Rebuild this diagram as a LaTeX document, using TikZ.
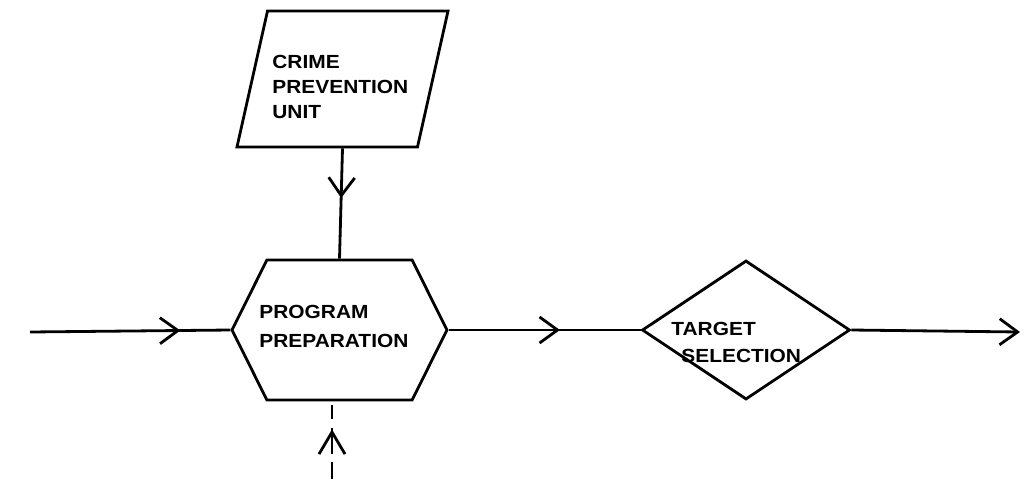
\documentclass[tikz,border=0pt]{standalone}
\usepackage{fontspec}
\newfontfamily\boxfont[FakeStretch=1.1]{Liberation Sans}
\usepackage{tikz}
\usetikzlibrary{arrows.meta,shapes.geometric,shapes.symbols,positioning}
\usetikzlibrary{decorations.markings}
\tikzstyle{flow}=[line width=2.8pt,>={Straight Barb[length=18pt,width=26pt]}]
\tikzstyle{unit}=[draw,trapezium,trapezium left angle=76,trapezium right angle=104,
                trapezium stretches=true,minimum width=211pt,minimum height=136pt,inner sep=0]
\tikzstyle{proc}=[draw,signal,signal to=west and east,signal pointer angle=127,
                minimum width=215pt,minimum height=140pt,inner sep=0]
\tikzstyle{choice}=[draw,diamond,minimum width=208pt,minimum height=139pt,inner sep=0]
\tikzstyle{txt}=[font=\boxfont\bfseries\fontsize{19}{25}\selectfont,align=left,
                inner sep=0,anchor=north west]
\tikzset{midhit/.style={postaction={decorate},
                decoration={markings,mark=at position #1 with {\arrow{>}}}}}

\begin{document}
\begin{tikzpicture}[flow,x=1pt,y=-1pt]
  \useasboundingbox (0,0) rectangle (1035,479);
  % boxes
  \node[unit] (cpu) at (342.5,79) {\phantom{x}};
  \node[proc] (pp) at (339.5,330) {\phantom{x}};
  \node[choice,right of=pp,node distance=406.5pt] (ts) {\phantom{x}};
  % texts
  \node[txt] (cpu_t) at (271,54) {CRIME\\PREVENTION\\UNIT};
  \node[txt,font=\boxfont\bfseries\fontsize{19}{29}\selectfont] (pp_t) at (258,304) {PROGRAM\\PREPARATION};
  \node[txt,font=\boxfont\bfseries\fontsize{19}{27}\selectfont] (ts_t) at (670,321) {TARGET\\\hspace*{10pt}SELECTION};
  % loose ends
  \coordinate (in) at (30,332);
  \coordinate (out) at (1020,332);
  \coordinate (below) at (332,479);
  % connectors
  \draw[midhit=0.75] (in) -- (pp.west);
  \draw[midhit=0.58] (pp.east) -- (ts.west);
  \draw[->] (ts.east) -- (out);
  \draw[midhit=0.45] (cpu.south) -- (pp.north);
  \draw[midhit=0.64,>={Straight Barb[length=22pt,width=26pt]},
        dash pattern=on 17pt off 8pt on 26pt off 9pt on 14pt off 20pt] (below) -- (below |- pp.south);
\end{tikzpicture}
\end{document}
